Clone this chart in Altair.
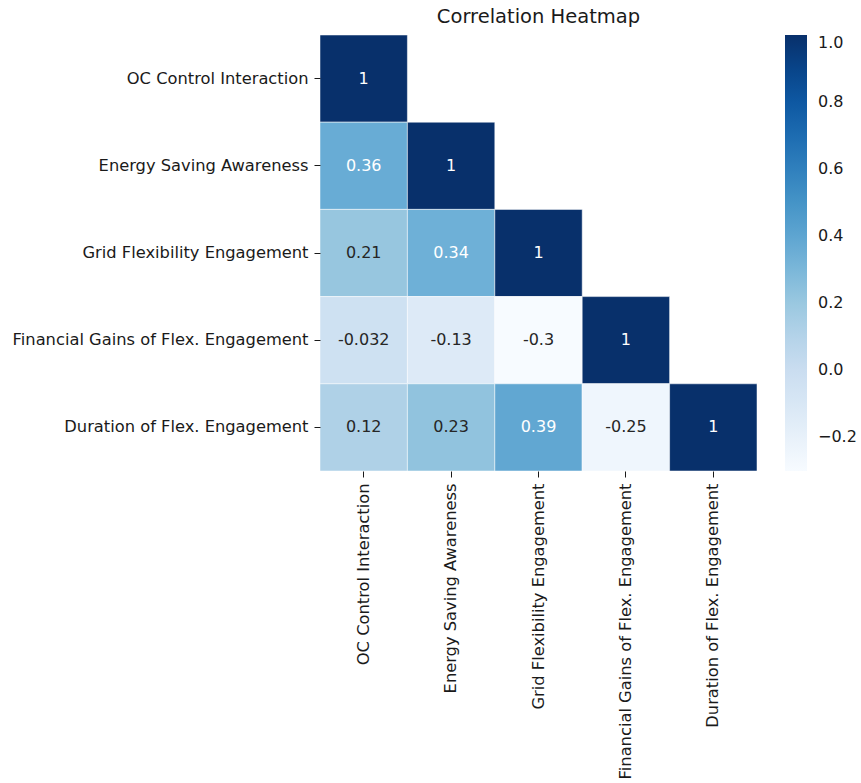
import altair as alt
import pandas as pd

variables = [
    "OC Control Interaction",
    "Energy Saving Awareness",
    "Grid Flexibility Engagement",
    "Financial Gains of Flex. Engagement",
    "Duration of Flex. Engagement",
]

# lower-triangle correlation rows (including diagonal)
row_oc = [1.0]
row_energy = [0.36, 1.0]
row_grid = [0.21, 0.34, 1.0]
row_financial = [-0.032, -0.13, -0.3, 1.0]
row_duration = [0.12, 0.23, 0.39, -0.25, 1.0]
rows = [row_oc, row_energy, row_grid, row_financial, row_duration]

blues = ["#f7fbff", "#deebf7", "#c6dbef", "#9ecae1", "#6baed6",
         "#4292c6", "#2171b5", "#08519c", "#08306b"]
vmin, vmax = -0.3, 1.0
legend_ticks = [-0.2, 0.0, 0.2, 0.4, 0.6, 0.8, 1.0]

records = []
for i, vals in enumerate(rows):
    for j, v in enumerate(vals):
        records.append({
            "row": variables[i],
            "col": variables[j],
            "value": v,
            "label": f"{v:.2g}",
        })
df = pd.DataFrame(records)

domain = [vmin + (vmax - vmin) * k / (len(blues) - 1) for k in range(len(blues))]

font = "DejaVu Sans"
fs = 16.3

x_enc = alt.X("col:N", sort=variables, title=None,
              scale=alt.Scale(domain=variables, paddingInner=0, paddingOuter=0),
              axis=alt.Axis(labelAngle=270, labelFontSize=fs, labelFont=font,
                            labelColor="#1a1a1a", tickColor="#1a1a1a", tickSize=6,
                            domain=False, labelPadding=6, labelLimit=400))
y_enc = alt.Y("row:N", sort=variables, title=None,
              scale=alt.Scale(domain=variables, paddingInner=0, paddingOuter=0),
              axis=alt.Axis(labelFontSize=fs, labelFont=font, labelColor="#1a1a1a",
                            tickColor="#1a1a1a", tickSize=6, domain=False,
                            labelPadding=6, labelLimit=400))

rects = alt.Chart(df).mark_rect(stroke="white", strokeWidth=0.5).encode(
    x=x_enc,
    y=y_enc,
    color=alt.Color("value:Q",
                    scale=alt.Scale(domain=domain, range=blues, interpolate="rgb"),
                    legend=alt.Legend(title=None, values=legend_ticks, format=".1f",
                                      gradientLength=436, gradientThickness=22,
                                      gradientStrokeWidth=0, labelFontSize=16,
                                      labelFont=font, labelColor="#1a1a1a",
                                      labelOffset=11, offset=28)),
)

texts = alt.Chart(df).mark_text(fontSize=16, font=font).encode(
    x=alt.X("col:N", sort=variables),
    y=alt.Y("row:N", sort=variables),
    text="label:N",
    color=alt.condition("datum.value >= 0.3", alt.value("white"), alt.value("#262626")),
)

chart = alt.layer(rects, texts).properties(
    width=437,
    height=436,
    padding={"left": 12, "top": 7, "right": 0, "bottom": 5},
    title=alt.TitleParams("Correlation Heatmap", fontSize=19.5, font=font,
                          fontWeight="normal", color="#1a1a1a", offset=7),
).configure_view(stroke=None)

chart.save("out.html", embed_options={"renderer": "svg", "actions": False})
